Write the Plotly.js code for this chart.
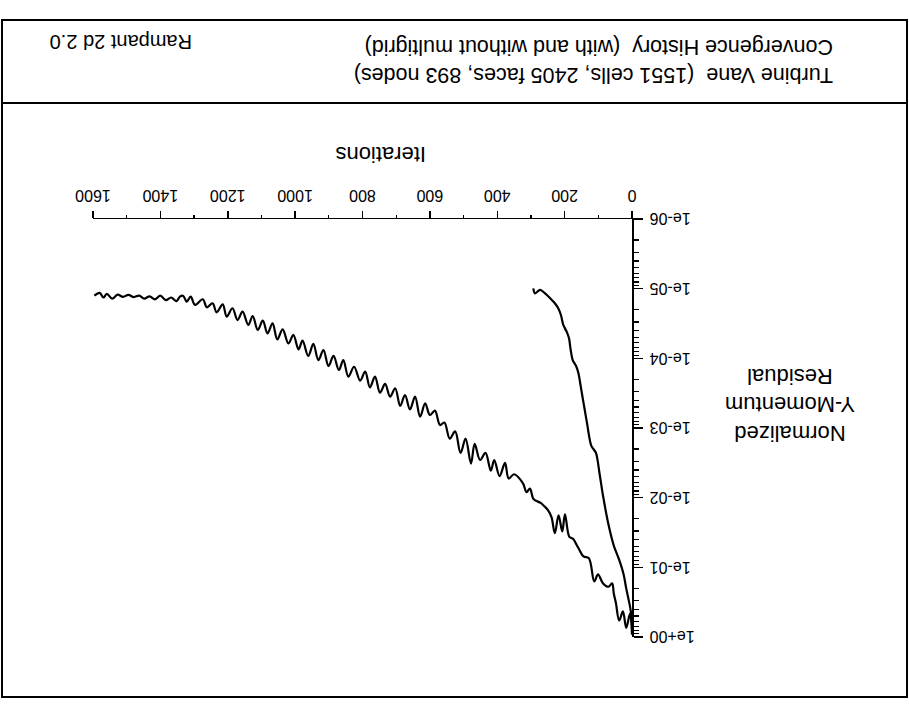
<!DOCTYPE html>
<html>
<head>
<meta charset="utf-8">
<script src="https://cdn.plot.ly/plotly-3.0.1.min.js"></script>
<style>
  html, body { margin: 0; padding: 0; background: #ffffff; }
  #chart { width: 909px; height: 711px; transform: rotate(180deg); transform-origin: 50% 50%; }
</style>
</head>
<body>
<div id="chart"></div>
<script>
// ---- data (iterations vs normalized Y-momentum residual) ----
const iterMG = [0, 6, 17, 25, 38, 54, 70, 86, 96, 107, 121, 133, 140, 147, 152, 159, 166, 176, 182, 187, 194, 204, 211, 219, 229, 243, 258, 273, 288, 293];
const resMG  = [0.55, 0.363, 0.202, 0.126, 0.0783, 0.0489, 0.0241, 0.00938, 0.00461, 0.00228, 0.00179, 0.000885, 0.00056, 0.000356, 0.000255, 0.000164, 0.000129, 0.000106, 0.0000759, 0.0000515, 0.0000414, 0.0000332, 0.0000239, 0.0000191, 0.0000162, 0.0000137, 0.0000117, 0.0000104, 0.0000117, 0.0000099];

const iterNoMG = [0, 6, 17, 27, 38, 48, 54, 59, 70, 86, 101, 112, 128, 144, 160, 176, 186, 199, 207, 218, 229, 239, 250, 260, 271, 292, 303, 313, 324, 350, 366, 377, 393, 409, 419, 435, 451, 467, 478, 494, 509, 525, 541, 557, 570, 585, 600, 614, 629, 644, 659, 674, 688, 703, 718, 733, 748, 763, 778, 792, 807, 825, 842, 857, 870, 886, 901, 916, 931, 946, 961, 978, 990, 1005, 1020, 1037, 1053, 1067, 1082, 1096, 1111, 1126, 1139, 1156, 1171, 1186, 1203, 1215, 1233, 1245, 1262, 1274, 1297, 1310, 1322, 1332, 1342, 1352, 1368, 1384, 1400, 1416, 1432, 1448, 1463, 1479, 1495, 1511, 1527, 1543, 1559, 1569, 1580, 1596];
const resNoMG  = [0.93, 0.46, 0.74, 0.43, 0.58, 0.32, 0.24, 0.17, 0.19, 0.17, 0.126, 0.159, 0.074, 0.0697, 0.0519, 0.0386, 0.0365, 0.0173, 0.0305, 0.0179, 0.0324, 0.019, 0.015, 0.0133, 0.0119, 0.0105, 0.0074, 0.00832, 0.00619, 0.00461, 0.00532, 0.00317, 0.0049, 0.00288, 0.0041, 0.00228, 0.00288, 0.00169, 0.00324, 0.00142, 0.00228, 0.00112, 0.00142, 0.000834, 0.000906, 0.000564, 0.00065, 0.000443, 0.000687, 0.000355, 0.00054, 0.000336, 0.000483, 0.000269, 0.000355, 0.000233, 0.000311, 0.000183, 0.000261, 0.000155, 0.000209, 0.000132, 0.000183, 0.000106, 0.000147, 0.0000925, 0.000129, 0.0000759, 0.000106, 0.0000622, 0.0000925, 0.0000557, 0.0000743, 0.0000462, 0.000061, 0.0000384, 0.0000533, 0.0000315, 0.0000438, 0.0000288, 0.0000392, 0.0000247, 0.0000332, 0.0000214, 0.0000282, 0.0000191, 0.0000252, 0.0000168, 0.0000219, 0.0000162, 0.0000185, 0.0000142, 0.0000171, 0.000013, 0.0000154, 0.0000127, 0.000013, 0.0000151, 0.0000134, 0.0000146, 0.0000126, 0.0000142, 0.0000129, 0.0000139, 0.0000126, 0.0000132, 0.0000123, 0.0000131, 0.0000122, 0.0000139, 0.0000119, 0.0000134, 0.0000115, 0.0000126];

const xTickVals = [0, 200, 400, 600, 800, 1000, 1200, 1400, 1600];
const yTickVals = [1e-6, 1e-5, 1e-4, 1e-3, 1e-2, 1e-1, 1];
const yTickText = ["1e-06", "1e-05", "1e-04", "1e-03", "1e-02", "1e-01", "1e+00"];

const titleLine1 = "Turbine Vane\u00a0\u00a0(1551 cells, 2405 faces, 893 nodes)";
const titleLine2 = "Convergence History\u00a0\u00a0(with and without multigrid)";
const versionText = "Rampant 2d 2.0";
const xTitle = "Iterations";
const yTitle = "Normalized<br>Y-Momentum<br>Residual";

// ---- layout geometry (pixels of the unrotated page) ----
const FIG_W = 909, FIG_H = 711;
const L = 277, R = 93, T = 74, B = 219;
const W = FIG_W - L - R, H = FIG_H - T - B;
const px = x => (x - L) / W;          // page px -> paper x
const py = y => (T + H - y) / H;      // page px (from top) -> paper y

const minorY = [];
for (let e = -6; e < 0; e++) {
  for (let d = 2; d <= 9; d++) minorY.push(d * Math.pow(10, e));
}

const FONT = "Liberation Sans, Arial, Helvetica, sans-serif";

const traces = [
  { x: iterNoMG, y: resNoMG, type: "scatter", mode: "lines",
    line: { color: "#000000", width: 2.2, shape: "spline", smoothing: 1 }, name: "without multigrid", hoverinfo: "x+y" },
  { x: iterMG, y: resMG, type: "scatter", mode: "lines",
    line: { color: "#000000", width: 2.2, shape: "spline", smoothing: 0.8 }, name: "with multigrid", hoverinfo: "x+y" }
];

const layout = {
  width: FIG_W, height: FIG_H,
  margin: { l: L, r: R, t: T, b: B, pad: 0 },
  paper_bgcolor: "#ffffff", plot_bgcolor: "#ffffff",
  showlegend: false,
  font: { family: FONT, color: "#000000", size: 16 },
  xaxis: {
    range: [0, 1600], tickmode: "array", tickvals: xTickVals,
    ticks: "outside", ticklen: 7, tickwidth: 1.5, tickcolor: "#000",
    showline: true, linecolor: "#000", linewidth: 1.5,
    showgrid: false, zeroline: false, ticklabelstandoff: 1,
    tickfont: { family: FONT, size: 16, color: "#000" },
    minor: { dtick: 100, ticks: "outside", ticklen: 3, tickwidth: 1.2, tickcolor: "#000", showgrid: false }
  },
  yaxis: {
    type: "log", range: [-6, 0], tickmode: "array", tickvals: yTickVals, ticktext: yTickText,
    ticks: "outside", ticklen: 9, tickwidth: 1.5, tickcolor: "#000",
    showline: true, linecolor: "#000", linewidth: 1.5,
    showgrid: false, zeroline: false, ticklabelstandoff: 4,
    tickfont: { family: FONT, size: 16, color: "#000" },
    minor: { tickmode: "array", tickvals: minorY, ticks: "outside", ticklen: 5, tickwidth: 1.2, tickcolor: "#000", showgrid: false }
  },
  shapes: [
    { type: "rect", xref: "paper", yref: "paper", x0: px(2), x1: px(907), y0: py(691), y1: py(14),
      line: { color: "#000", width: 2 }, fillcolor: "rgba(0,0,0,0)", layer: "above" },
    { type: "line", xref: "paper", yref: "paper", x0: px(2), x1: px(907), y0: py(608), y1: py(608),
      line: { color: "#000", width: 2 } }
  ],
  annotations: [
    { text: xTitle, xref: "paper", yref: "paper", x: px(528), y: py(556), xanchor: "center", yanchor: "middle",
      showarrow: false, font: { family: FONT, size: 22, color: "#000" } },
    { text: yTitle, xref: "paper", yref: "paper", x: px(119), y: py(306), xanchor: "center", yanchor: "middle",
      align: "center", showarrow: false, font: { family: FONT, size: 22, color: "#000" } },
    { text: titleLine1, xref: "paper", yref: "paper", x: px(74), y: py(636), xanchor: "left", yanchor: "middle",
      showarrow: false, font: { family: FONT, size: 21.5, color: "#000" } },
    { text: titleLine2, xref: "paper", yref: "paper", x: px(74), y: py(664), xanchor: "left", yanchor: "middle",
      showarrow: false, font: { family: FONT, size: 21.5, color: "#000" } },
    { text: versionText, xref: "paper", yref: "paper", x: px(715), y: py(669), xanchor: "left", yanchor: "middle",
      showarrow: false, font: { family: FONT, size: 20, color: "#000" } }
  ]
};

Plotly.newPlot("chart", traces, layout, { staticPlot: true, displayModeBar: false });
</script>
</body>
</html>
